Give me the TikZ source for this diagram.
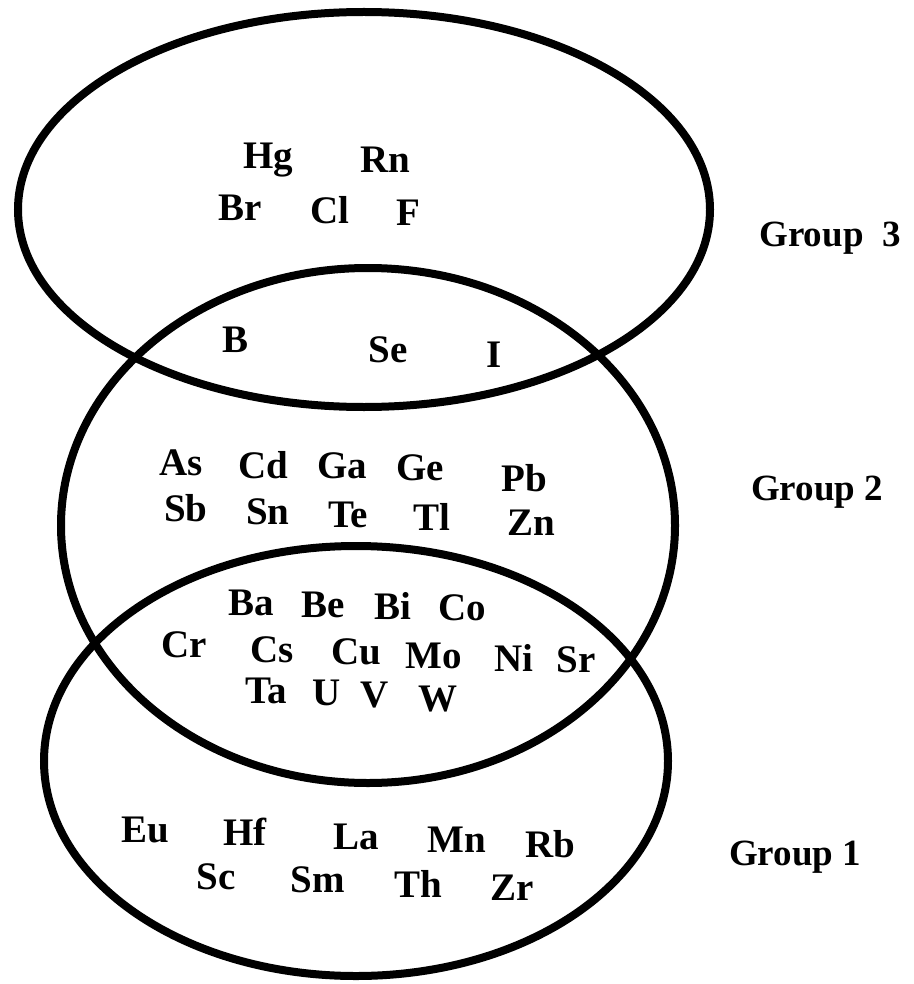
\documentclass[tikz,border=0pt]{standalone}
\usepackage{fontspec}
\setmainfont{Liberation Serif}
\begin{document}
\begin{tikzpicture}[x=1pt,y=-1pt,
  ring/.style={line width=8pt,black},
  el/.style={font=\fontsize{39}{42}\selectfont\bfseries,inner sep=0pt,anchor=center},
  grp/.style={font=\fontsize{37}{40}\selectfont\bfseries,inner sep=0pt,anchor=center}]
\fill[white] (0,0) rectangle (913,984);
\useasboundingbox (0,0) rectangle (913,984);
% ellipses
\draw[ring] (364,209.5) ellipse [x radius=346pt, y radius=197.5pt];
\draw[ring] (368,525.5) ellipse [x radius=307pt, y radius=257.5pt];
\draw[ring] (356,761) ellipse [x radius=312pt, y radius=215pt];
% group labels
\node[grp] (g3) at (830,238) {Group\ \ 3};
\node[grp] (g2) at (817,492) {Group 2};
\node[grp] (g1) at (795,857) {Group 1};
% group 3 only
\node[el] (Hg) at (268,160) {Hg};
\node[el] (Rn) at (385,160) {Rn};
\node[el] (Br) at (240,208) {Br};
\node[el] (Cl) at (330,210) {Cl};
\node[el] (F)  at (408,213) {F};
% 3 and 2
\node[el] (B)  at (236,340) {B};
\node[el] (Se) at (388,350) {Se};
\node[el] (I)  at (494,355) {I};
% group 2 only
\node[el] (As) at (181,463) {As};
\node[el] (Cd) at (263,465) {Cd};
\node[el] (Ga) at (342,466) {Ga};
\node[el] (Ge) at (420,468) {Ge};
\node[el] (Pb) at (524,478) {Pb};
\node[el] (Sb) at (186,508) {Sb};
\node[el] (Sn) at (268,512) {Sn};
\node[el] (Te) at (348,515) {Te};
\node[el] (Tl) at (432,517) {Tl};
\node[el] (Zn) at (531,523) {Zn};
% 2 and 1
\node[el] (Ba) at (251,603) {Ba};
\node[el] (Be) at (323,605) {Be};
\node[el] (Bi) at (393,606) {Bi};
\node[el] (Co) at (462,608) {Co};
\node[el] (Cr) at (184,645) {Cr};
\node[el] (Cs) at (272,650) {Cs};
\node[el] (Cu) at (356,652) {Cu};
\node[el] (Mo) at (434,656) {Mo};
\node[el] (Ni) at (514,658) {Ni};
\node[el] (Sr) at (576,660) {Sr};
\node[el] (Ta) at (266,691) {Ta};
\node[el] (U)  at (327,693) {U};
\node[el] (V)  at (375,695) {V};
\node[el] (W)  at (438,699) {W};
% group 1 only
\node[el] (Eu) at (145,830) {Eu};
\node[el] (Hf) at (245,832) {Hf};
\node[el] (La) at (356,837) {La};
\node[el] (Mn) at (457,840) {Mn};
\node[el] (Rb) at (550,844) {Rb};
\node[el] (Sc) at (216,877) {Sc};
\node[el] (Sm) at (318,880) {Sm};
\node[el] (Th) at (418,884) {Th};
\node[el] (Zr) at (512,888) {Zr};
\end{tikzpicture}
\end{document}
